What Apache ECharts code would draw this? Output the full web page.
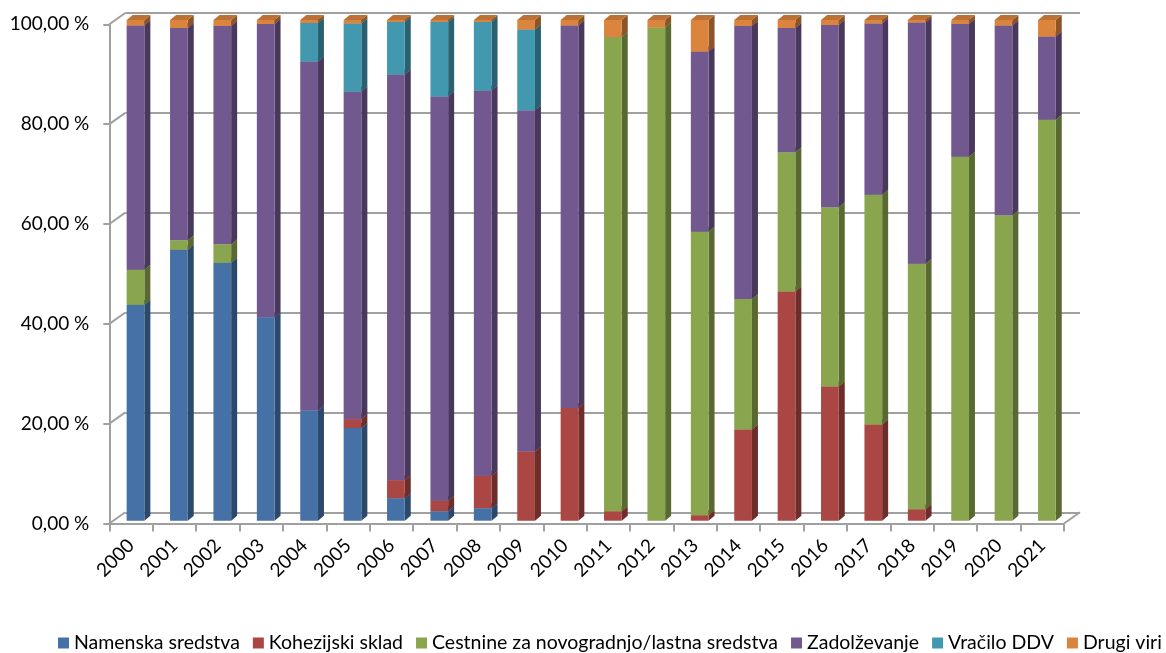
<!DOCTYPE html>
<html>
<head>
<meta charset="utf-8">
<script src="https://cdn.jsdelivr.net/npm/echarts@6/dist/echarts.min.js"></script>
<style>
  html, body { margin: 0; padding: 0; background: #fff; }
  #chart { width: 1166px; height: 653px; }
</style>
</head>
<body>
<div id="chart"></div>
<script>
// Years on the category axis
const years = ['2000','2001','2002','2003','2004','2005','2006','2007','2008','2009','2010',
               '2011','2012','2013','2014','2015','2016','2017','2018','2019','2020','2021'];

// Share of each funding source per year (%)
const namenska     = [43.1, 54.1, 51.5, 40.6, 22.0, 18.5,  4.5,  1.9,  2.5,  0,    0,    0,    0,    0,    0,    0,    0,    0,    0,    0,    0,    0];
const kohezijski   = [0,    0,    0,    0,    0,    1.8,  3.6,  2.1,  6.5, 13.8, 22.5,  1.9,  0,    1.1, 18.2, 45.8, 26.8, 19.2,  2.3,  0,    0,    0];
const cestnine     = [7.0,  1.9,  3.7,  0,    0,    0,    0,    0,    0,    0,    0,   94.7, 98.5, 56.6, 26.1, 27.8, 35.8, 45.9, 49.0, 72.7, 61.0, 80.1];
const zadolzevanje = [48.8, 42.4, 43.6, 58.6, 69.7, 65.4, 81.0, 80.7, 76.9, 68.2, 76.4,  0,    0,   36.0, 54.5, 24.8, 36.4, 34.2, 48.2, 26.5, 37.9, 16.6];
const vracilo      = [0,    0,    0,    0,    7.7, 13.6, 10.5, 14.9, 13.7, 16.1,  0,    0,    0,    0,    0,    0,    0,    0,    0,    0,    0,    0];
const drugi        = [1.1,  1.6,  1.2,  0.8,  0.6,  0.7,  0.4,  0.4,  0.4,  1.9,  1.1,  3.4,  1.5,  6.3,  1.2,  1.6,  1.0,  0.7,  0.5,  0.8,  1.1,  3.3];

// Y axis tick values
const yTicks = [0, 20, 40, 60, 80, 100];

const seriesDefs = [
  { name: 'Namenska sredstva', values: namenska, color: '#4571A6' },
  { name: 'Kohezijski sklad', values: kohezijski, color: '#AA4643' },
  { name: 'Cestnine za novogradnjo/lastna sredstva', values: cestnine, color: '#89A54E' },
  { name: 'Zadolževanje', values: zadolzevanje, color: '#71588F' },
  { name: 'Vračilo DDV', values: vracilo, color: '#4198AF' },
  { name: 'Drugi viri', values: drugi, color: '#DB843D' }
];

const FONT = 'Lato, "Open Sans", sans-serif';
const LINE = '#a0a0a0';
// depth of a bar (side / top faces) and of the back wall
const BAR_DX = 6, BAR_DY = 5;
const WALL_DX = 16, WALL_DY = 11.3;

function shade(hex, f) {
  const n = parseInt(hex.slice(1), 16);
  const r = Math.round(((n >> 16) & 255) * f);
  const g = Math.round(((n >> 8) & 255) * f);
  const b = Math.round((n & 255) * f);
  return 'rgb(' + r + ',' + g + ',' + b + ')';
}

function barRenderer(color) {
  const side = shade(color, 0.64);
  const top = shade(color, 0.86);
  return function (params, api) {
    const lo = api.value(1), hi = api.value(2);
    if (!(hi - lo > 0)) return null;
    const pLo = api.coord([api.value(0), lo]);
    const pHi = api.coord([api.value(0), hi]);
    const w = api.size([1, 0])[0] * 0.408;
    const x = pLo[0] - w / 2, yT = pHi[1], yB = pLo[1];
    return {
      type: 'group',
      children: [
        { type: 'polygon', shape: { points: [[x + w, yB], [x + w, yT], [x + w + BAR_DX, yT - BAR_DY], [x + w + BAR_DX, yB - BAR_DY]] }, style: { fill: side } },
        { type: 'polygon', shape: { points: [[x, yT], [x + BAR_DX, yT - BAR_DY], [x + w + BAR_DX, yT - BAR_DY], [x + w, yT]] }, style: { fill: top } },
        { type: 'rect', shape: { x: x, y: yT, width: w, height: yB - yT }, style: { fill: color } }
      ]
    };
  };
}

// stacked segments [categoryIndex, base, top]
const base = years.map(() => 0);
const barSeries = seriesDefs.map(def => {
  const data = def.values.map((v, i) => {
    const item = [i, base[i], base[i] + v];
    base[i] += v;
    return item;
  });
  return {
    type: 'custom',
    name: def.name,
    xAxisIndex: 0,
    yAxisIndex: 0,
    itemStyle: { color: def.color },
    renderItem: barRenderer(def.color),
    encode: { x: 0, y: [1, 2] },
    data: data,
    z: 5
  };
});

// wall edges joining the front axis to the back wall
const edgeSeries = {
  type: 'custom',
  xAxisIndex: 1,
  yAxisIndex: 1,
  silent: true,
  z: 1,
  data: yTicks.map(v => [0, v]),
  encode: { x: 0, y: 1 },
  renderItem: function (params, api) {
    const cs = params.coordSys;
    const y = api.coord([0, api.value(1)])[1];
    const children = [
      { type: 'line', shape: { x1: cs.x, y1: y, x2: cs.x + WALL_DX, y2: y - WALL_DY }, style: { stroke: LINE, lineWidth: 2 } }
    ];
    if (api.value(1) === 0) {
      const xr = cs.x + cs.width;
      children.push({ type: 'line', shape: { x1: xr, y1: y, x2: xr + WALL_DX, y2: y - WALL_DY }, style: { stroke: LINE, lineWidth: 2 } });
    }
    return { type: 'group', children: children };
  }
};

const chart = echarts.init(document.getElementById('chart'), null, { renderer: 'canvas' });
chart.setOption({
  animation: false,
  backgroundColor: '#ffffff',
  textStyle: { fontFamily: FONT },
  grid: [
    // plane of the bars
    { left: 113.8, right: 97.4, top: 20, bottom: 132.3 },
    // front axes
    { left: 109.3, right: 102, top: 24.3, bottom: 129.5 },
    // back wall
    { left: 125.3, right: 86, top: 13, bottom: 140.2 }
  ],
  xAxis: [
    { gridIndex: 0, type: 'category', data: years, show: false },
    {
      gridIndex: 1, type: 'category', data: years,
      axisLine: { show: true, lineStyle: { color: LINE, width: 2 } },
      axisTick: { show: true, length: 8, lineStyle: { color: LINE, width: 2 } },
      axisLabel: { rotate: 45, margin: 19, fontSize: 19, fontFamily: FONT, color: '#000', interval: 0 },
      splitLine: { show: false }
    },
    { gridIndex: 2, type: 'value', show: false }
  ],
  yAxis: [
    { gridIndex: 0, type: 'value', min: 0, max: 100, show: false },
    {
      gridIndex: 1, type: 'value', min: 0, max: 100, interval: 20,
      axisLine: { show: true, lineStyle: { color: LINE, width: 2 } },
      axisTick: { show: true, length: 6, lineStyle: { color: LINE, width: 2 } },
      axisLabel: {
        margin: 20, fontSize: 19, fontFamily: FONT, color: '#000',
        formatter: v => v.toFixed(2).replace('.', ',') + ' %'
      },
      splitLine: { show: false }
    },
    {
      gridIndex: 2, type: 'value', min: 0, max: 100, interval: 20,
      axisLine: { show: false }, axisTick: { show: false }, axisLabel: { show: false },
      splitLine: { show: true, lineStyle: { color: LINE, width: 2 } }
    }
  ],
  legend: {
    left: 53,
    top: 628,
    width: 1110,
    icon: 'rect',
    itemWidth: 11,
    itemHeight: 11,
    itemGap: 13,
    textStyle: { fontSize: 19.5, fontFamily: FONT, color: '#000' },
    data: seriesDefs.map(d => d.name)
  },
  series: [edgeSeries].concat(barSeries)
});
</script>
</body>
</html>
